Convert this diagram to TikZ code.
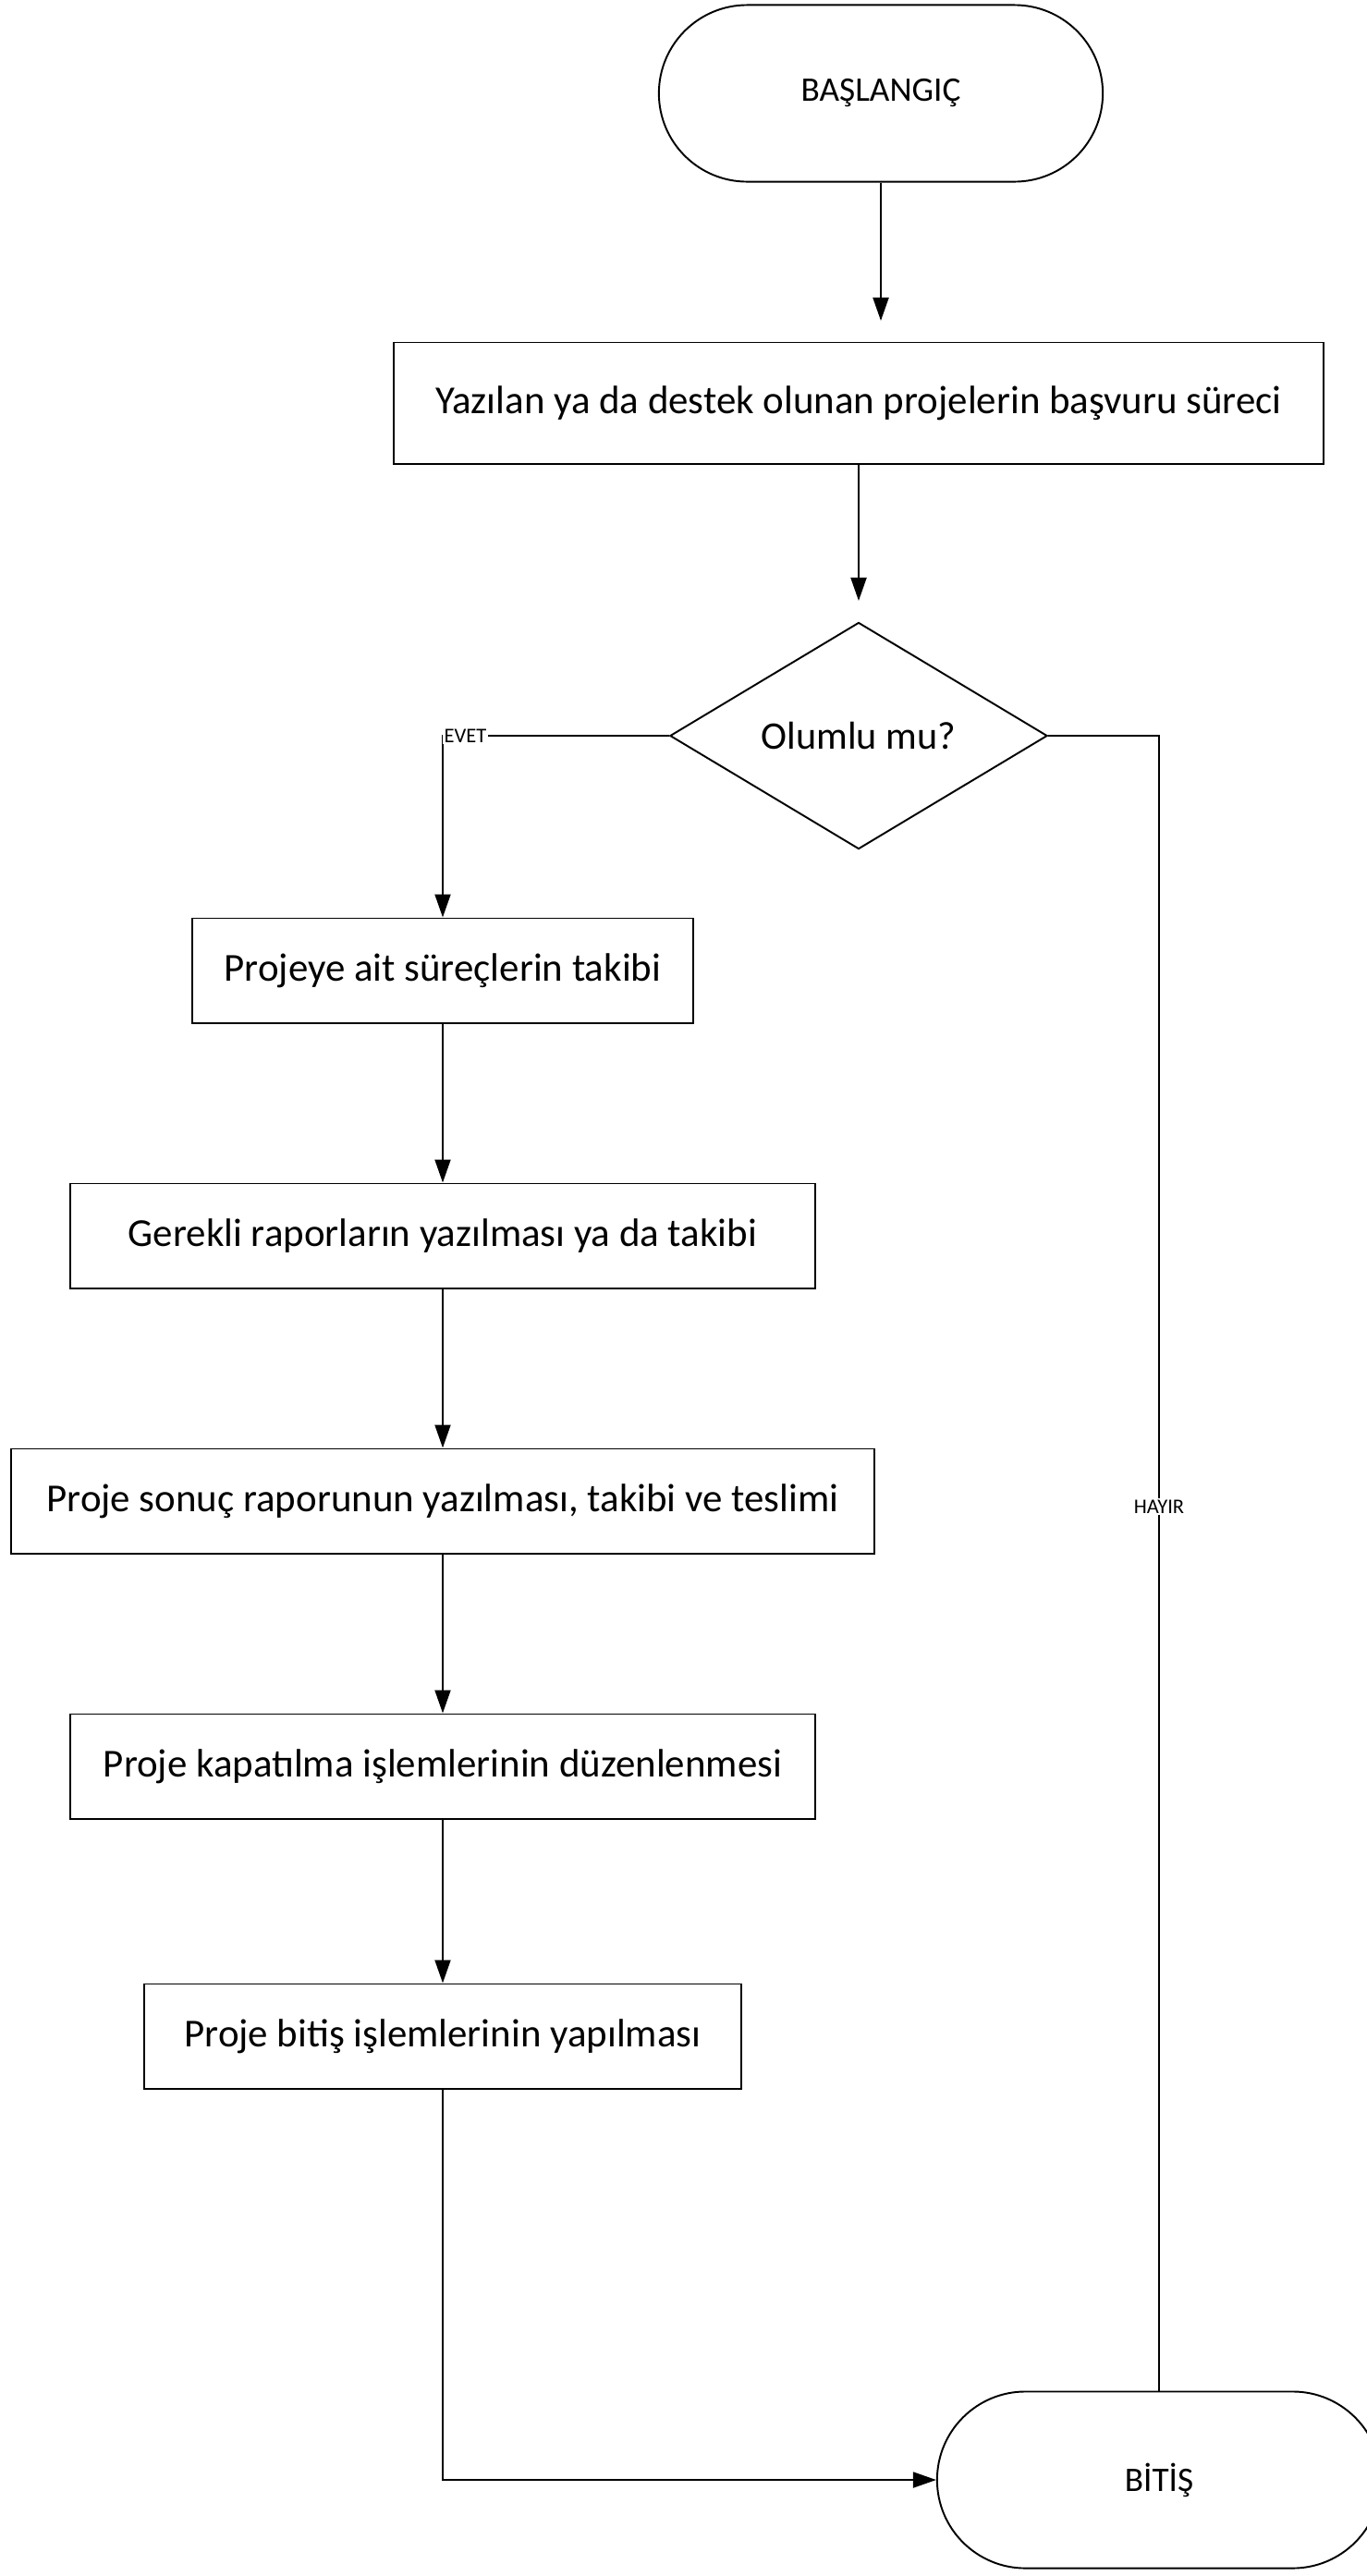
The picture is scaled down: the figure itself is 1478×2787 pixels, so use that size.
\documentclass[tikz,border=0pt]{standalone}
\usepackage{fontspec}
\setmainfont{Carlito}
\usepackage{tikz}
\usetikzlibrary{shapes.geometric, arrows.meta}

\tikzset{
  term/.style={draw, rounded corners=0.955cm, minimum width=4.8cm, minimum height=1.91cm, font=\fontsize{10.6}{12}\selectfont},
  proc/.style={draw, rectangle, minimum height=1.13cm, font=\fontsize{12.2}{14}\selectfont},
  dec/.style={draw, diamond, inner sep=0pt, minimum width=4.08cm, minimum height=2.45cm, font=\fontsize{12}{14}\selectfont},
  flow/.style={-{Triangle[length=0.25cm, width=0.17cm]}},
  tag/.style={font=\fontsize{6.4}{7.5}\selectfont, fill=white, inner sep=0.5pt}
}

\begin{document}
\begin{tikzpicture}[x=0.01cm, y=-0.01cm, line width=0.55pt]

      \useasboundingbox (0,0) rectangle (1478,2787);

      % Terminals
      \node[term] (start) at (953, 101) {BAŞLANGIÇ};
      \node[term] (stop) at (1254, 2683) {BİTİŞ};

      % Process steps
      \node[proc, minimum width=10.06cm, minimum height=1.31cm] (apply) at (929, 436) {Yazılan ya da destek olunan projelerin başvuru süreci};
      \node[dec] (ok) at (929, 796) {Olumlu mu?};
      \node[proc, minimum width=5.42cm] (track) at (479, 1050) {Projeye ait süreçlerin takibi};
      \node[proc, minimum width=8.05cm] (reports) at (479, 1337) {Gerekli raporların yazılması ya da takibi};
      \node[proc, minimum width=9.33cm] (final) at (479, 1624) {Proje sonuç raporunun yazılması, takibi ve teslimi};
      \node[proc, minimum width=8.05cm] (closing) at (479, 1911) {Proje kapatılma işlemlerinin düzenlenmesi};
      \node[proc, minimum width=6.46cm] (finish) at (479, 2203) {Proje bitiş işlemlerinin yapılması};

      % Connectors
      \coordinate (startend) at (953, 347);
      \coordinate (applyend) at (929, 650);
      \draw[flow] (start) -- (startend);
      \draw[flow] (apply) -- (applyend);
      \draw[flow] (ok.west) -- node[tag, pos=0.9] {EVET} (track.north |- ok.west) -- (track.north);
      \draw[flow] (track) -- (reports);
      \draw[flow] (reports) -- (final);
      \draw[flow] (final) -- (closing);
      \draw[flow] (closing) -- (finish);
      \draw[flow] (finish) |- (stop.west);
      \draw (ok.east) -| node[tag, pos=0.733] {HAYIR} (stop.north);

  \end{tikzpicture}
\end{document}
